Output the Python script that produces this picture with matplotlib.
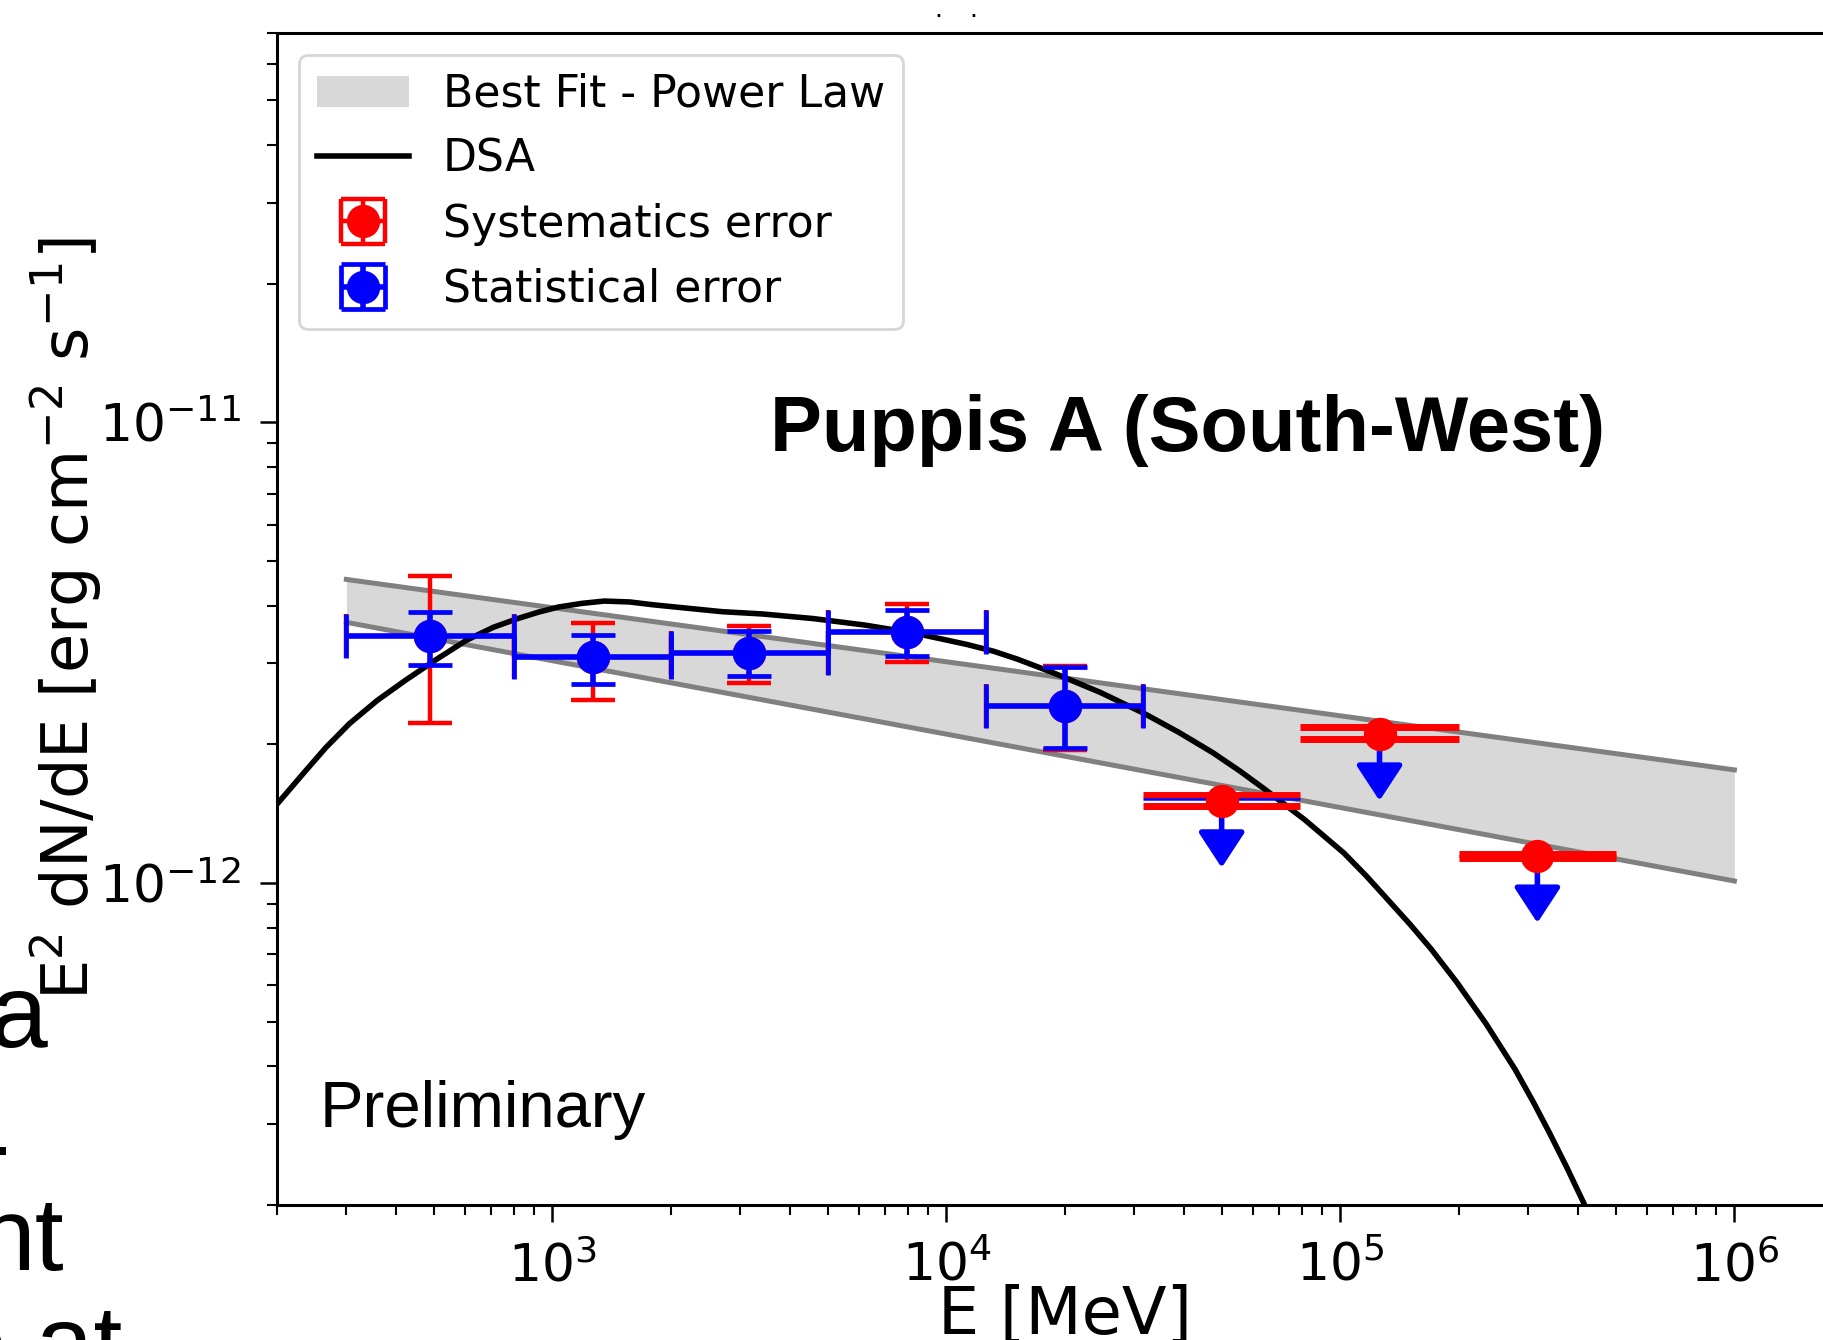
import numpy as np
import matplotlib
matplotlib.use("Agg")
import matplotlib.pyplot as plt

# ---- data -------------------------------------------------------------
# energy bin edges [MeV]
bin_edges = [300, 800, 2000, 5000, 12600, 31600, 79000, 200000, 500000]

# detected bins (first five): flux and error ranges [erg cm^-2 s^-1]
det_flux = [3.43e-12, 3.09e-12, 3.16e-12, 3.51e-12, 2.42e-12]
stat_hi = [3.88e-12, 3.45e-12, 3.52e-12, 3.92e-12, 2.94e-12]
stat_lo = [2.97e-12, 2.71e-12, 2.81e-12, 3.11e-12, 1.96e-12]
sys_hi = [4.64e-12, 3.67e-12, 3.61e-12, 4.03e-12, 2.96e-12]
sys_lo = [2.23e-12, 2.49e-12, 2.72e-12, 3.02e-12, 1.94e-12]

# upper-limit bins (last three)
ul_flux = [1.51e-12, 2.11e-12, 1.146e-12]
ul_sys_hi = [1.549e-12, 2.18e-12, 1.157e-12]
ul_sys_lo = [1.466e-12, 2.05e-12, 1.135e-12]
ul_stat = [1.518e-12, None, None]

# power-law fit envelope
band_E = [300, 1e6]
band_hi = [4.56e-12, 1.76e-12]
band_lo = [3.68e-12, 1.01e-12]

# DSA model curve, sampled in log10(E/MeV) and log10(flux)
dsa_logE = [2.301, 2.368, 2.425, 2.485, 2.555, 2.627, 2.705, 2.782, 2.850,
            2.912, 2.965, 3.015, 3.075, 3.132, 3.197, 3.255, 3.313, 3.430,
            3.533, 3.662, 3.792, 3.921, 4.051, 4.120, 4.180, 4.269, 4.390,
            4.502, 4.590, 4.676, 4.745, 4.809, 4.910, 5.009, 5.065, 5.118,
            5.175, 5.229, 5.295, 5.370, 5.443, 5.490, 5.531, 5.575, 5.620,
            5.700]
dsa_logF = [-11.829, -11.762, -11.706, -11.654, -11.604, -11.560, -11.515,
            -11.473, -11.445, -11.426, -11.412, -11.401, -11.393, -11.388,
            -11.390, -11.396, -11.401, -11.411, -11.416, -11.426, -11.440,
            -11.458, -11.482, -11.497, -11.514, -11.543, -11.586, -11.632,
            -11.673, -11.717, -11.757, -11.797, -11.863, -11.935, -11.984,
            -12.034, -12.088, -12.142, -12.215, -12.306, -12.404, -12.476,
            -12.543, -12.618, -12.699, -12.850]

# ---- derived quantities ----------------------------------------------
edges = np.array(bin_edges, dtype=float)
centers = np.sqrt(edges[:-1] * edges[1:])
xerr_all = np.vstack([centers - edges[:-1], edges[1:] - centers])
n_det = len(det_flux)
det_f = np.array(det_flux)
dsa_E = 10.0 ** np.array(dsa_logE)
dsa_flux = 10.0 ** np.array(dsa_logF)

# ---- figure -----------------------------------------------------------
W, H, DPI = 1824, 1340, 200
fig = plt.figure(figsize=(W / DPI, H / DPI), dpi=DPI)
ax_left, ax_right_px, ax_top, ax_bot = 277, 1853, 33, 1205
ax = fig.add_axes([ax_left / W, (H - ax_bot) / H,
                   (ax_right_px - ax_left) / W, (ax_bot - ax_top) / H])
ax.set_xscale("log")
ax.set_yscale("log")
ax.set_xlim(200, 2e6)
ax.set_ylim(2e-13, 7e-11)

# power-law envelope
band = ax.fill_between(band_E, band_lo, band_hi, color="#d8d8d8", lw=0,
                       zorder=1)
ax.plot(band_E, band_hi, color="#808080", lw=1.8, zorder=1.5)
ax.plot(band_E, band_lo, color="#808080", lw=1.8, zorder=1.5)

# DSA model
dsa_line, = ax.plot(dsa_E, dsa_flux, color="black", lw=2.0, zorder=2,
                    solid_joinstyle="round")

# systematic errors
sys_err = ax.errorbar(centers[:n_det], det_f, xerr=xerr_all[:, :n_det],
                      yerr=[det_f - np.array(sys_lo), np.array(sys_hi) - det_f],
                      fmt="o", color="red", ms=11, elinewidth=1.6,
                      capsize=7.9, capthick=1.6, zorder=3)
# statistical errors
stat_err = ax.errorbar(centers[:n_det], det_f, xerr=xerr_all[:, :n_det],
                       yerr=[det_f - np.array(stat_lo), np.array(stat_hi) - det_f],
                       fmt="o", color="blue", ms=11, elinewidth=2.0,
                       capsize=7.9, capthick=1.7, zorder=4)

# upper limits
for k, f in enumerate(ul_flux):
    i = n_det + k
    xe = xerr_all[:, i:i + 1]
    for yv in (ul_sys_hi[k], ul_sys_lo[k]):
        ax.errorbar([centers[i]], [yv], xerr=xe, fmt="none", ecolor="red",
                    elinewidth=2.5, capsize=0, zorder=3)
    if ul_stat[k] is not None:
        ax.errorbar([centers[i]], [ul_stat[k]], xerr=xe, fmt="none",
                    ecolor="blue", elinewidth=0.9, capsize=0, zorder=3.2)
    ax.annotate("", xy=(centers[i], f * 0.715), xytext=(centers[i], f),
                arrowprops=dict(arrowstyle="-|>,head_width=0.36,head_length=0.55",
                                mutation_scale=20, color="blue", lw=2.0,
                                shrinkA=0, shrinkB=0), zorder=3.5)
    ax.plot([centers[i]], [f], "o", color="red", ms=11, zorder=4)

# axes styling
for sp in ax.spines.values():
    sp.set_linewidth(1.1)
ax.tick_params(which="major", length=6, width=0.9, labelsize=18.7, pad=7)
ax.tick_params(which="minor", length=3.6, width=0.75)

ax.set_xlabel("E [MeV]", fontsize=23.5)
ax.xaxis.set_label_coords(0.5, -0.067)
ax.set_ylabel(r"E$^2$ dN/dE [erg cm$^{-2}$ s$^{-1}$]", fontsize=23.0)
ax.yaxis.set_label_coords(-0.110, 0.5)

leg = ax.legend([band, dsa_line, sys_err, stat_err],
                ["Best Fit - Power Law", "DSA", "Systematics error",
                 "Statistical error"],
                loc="upper left", fontsize=15.9, handlelength=2.1,
                handletextpad=0.75)

fig.text(1188 / W, (H - 451) / H, "Puppis A (South-West)", fontsize=28,
         family="Liberation Sans", fontweight="bold", ha="center",
         va="baseline")
fig.text(320 / W, (H - 1127) / H, "Preliminary", fontsize=23.5,
         family="Liberation Sans", ha="left", va="baseline")

# fragments of surrounding page text
page_font = dict(family="Liberation Sans", fontsize=37.4, color="black",
                 va="baseline", ha="left")
fig.text(-10 / W, (H - 1047) / H, "a", **page_font)
fig.text(-25 / W, (H - 1179) / H, "-", **page_font)
fig.text(-23 / W, (H - 1270) / H, "nt", **page_font)
fig.text(-51 / W, (H - 1378) / H, "e at", **page_font)
fig.text(938 / W, (H - 17) / H, ".", fontsize=9, ha="center", va="baseline")
fig.text(973 / W, (H - 17) / H, ".", fontsize=9, ha="center", va="baseline")

fig.savefig("out.png", dpi=DPI)
